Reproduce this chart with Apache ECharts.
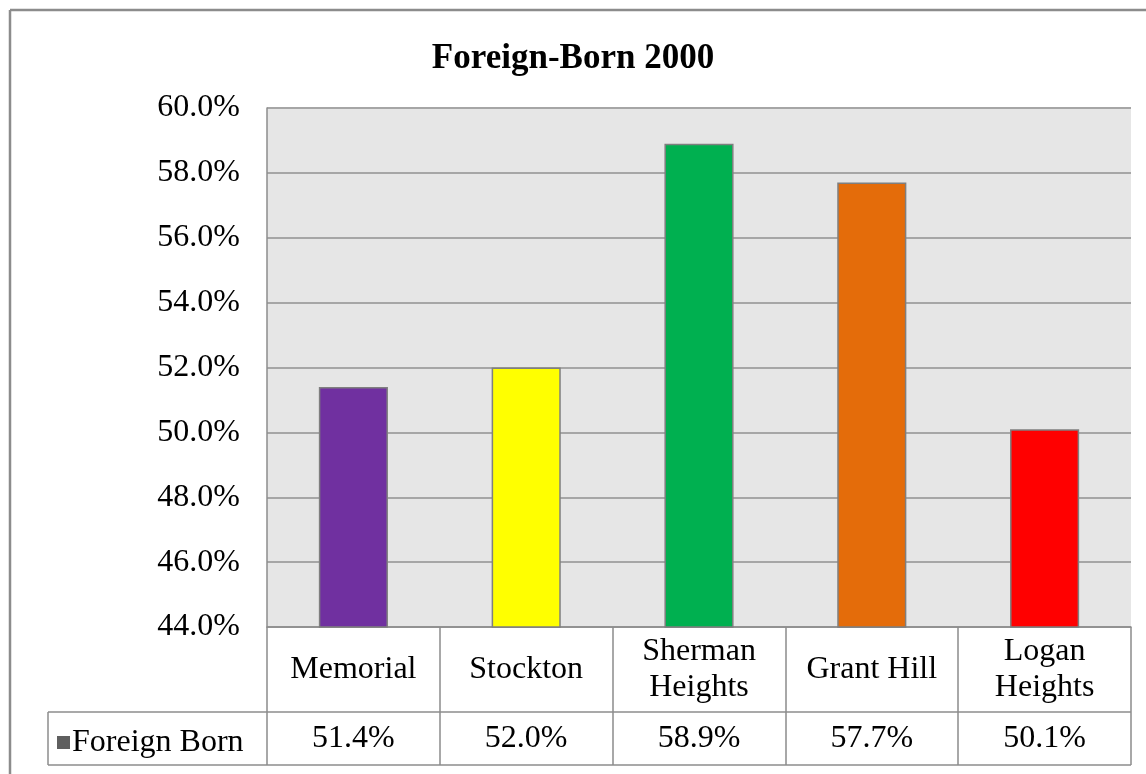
<!DOCTYPE html>
<html>
<head>
<meta charset="utf-8">
<script src="https://cdn.jsdelivr.net/npm/echarts@6/dist/echarts.min.js"></script>
<style>
html,body{margin:0;padding:0;background:#fff;}
#chart{width:1146px;height:774px;}
</style>
</head>
<body>
<div id="chart"></div>
<script>
var titleText = 'Foreign-Born 2000';
var seriesName = 'Foreign Born';
var categories = ['Memorial', 'Stockton', 'Sherman\nHeights', 'Grant Hill', 'Logan\nHeights'];
var values = [51.4, 52.0, 58.9, 57.7, 50.1];
var barColors = ['#7030A0', '#FFFF00', '#00B050', '#E46C0A', '#FF0000'];
var yMin = 44, yMax = 60, yStep = 2;

var FONT = '"Liberation Serif", "Times New Roman", serif';
var L = 267, R = 1131, T = 108, B = 627;
var rowMid = 712, rowEnd = 765, legLeft = 48;
var lineColor = '#8c8c8c';
var FS = 32;

var chart = echarts.init(document.getElementById('chart'), null, {renderer: 'canvas'});
chart.setOption({
  animation: false,
  backgroundColor: '#ffffff',
  textStyle: {fontFamily: FONT},
  title: {
    text: titleText, left: 'center', top: 36,
    textStyle: {fontFamily: FONT, fontWeight: 'bold', fontSize: 35, color: '#000'}
  },
  legend: {
    data: [seriesName], left: legLeft + 4, top: (rowMid + rowEnd) / 2 - 17,
    icon: 'rect', itemWidth: 13, itemHeight: 13, itemGap: 4,
    textStyle: {fontFamily: FONT, fontSize: FS, color: '#000', padding: [0, 0, 0, -3]},
    selectedMode: false
  },
  grid: {
    left: L, right: 1146 - R, top: T, bottom: 774 - B,
    show: true, backgroundColor: '#e6e6e6', borderWidth: 0
  },
  xAxis: [{
    type: 'category', data: categories, position: 'bottom',
    axisLine: {show: true, lineStyle: {color: lineColor, width: 1.5}},
    axisTick: {show: true, alignWithLabel: false, inside: false, length: rowEnd - B, lineStyle: {color: lineColor, width: 1.5}},
    axisLabel: {
      margin: (rowMid - B) / 2, verticalAlign: 'middle', lineHeight: 36,
      fontFamily: FONT, fontSize: FS, color: '#000', interval: 0
    }
  }, {
    type: 'category', data: values.map(function (v) { return v.toFixed(1) + '%'; }), position: 'bottom',
    axisLine: {show: false}, axisTick: {show: false},
    axisLabel: {
      margin: (rowMid + rowEnd) / 2 - B, verticalAlign: 'middle',
      fontFamily: FONT, fontSize: FS, color: '#000', interval: 0
    }
  }],
  yAxis: {
    type: 'value', min: yMin, max: yMax, interval: yStep,
    axisLine: {show: true, lineStyle: {color: lineColor, width: 1.5}},
    axisTick: {show: false},
    splitLine: {show: true, lineStyle: {color: '#a6a6a6', width: 2}},
    axisLabel: {
      margin: 27, fontFamily: FONT, fontSize: FS, color: '#000',
      formatter: function (v) { return v.toFixed(1) + '%'; }
    }
  },
  series: [{
    name: seriesName, type: 'bar', barWidth: '40%',
    itemStyle: {color: '#5f5f5f'},
    data: values.map(function (v, i) {
      return {value: v, itemStyle: {color: barColors[i], borderColor: '#7f7f7f', borderWidth: 1.5}};
    })
  }],
  graphic: [
    {type: 'line', shape: {x1: 10, y1: 10, x2: 1146, y2: 10}, style: {stroke: '#8c8c8c', lineWidth: 2.5}},
    {type: 'line', shape: {x1: 10, y1: 10, x2: 10, y2: 774}, style: {stroke: '#8c8c8c', lineWidth: 2.5}},
    {type: 'line', shape: {x1: legLeft, y1: rowMid, x2: R, y2: rowMid}, style: {stroke: lineColor, lineWidth: 1.5}},
    {type: 'line', shape: {x1: legLeft, y1: rowEnd, x2: R, y2: rowEnd}, style: {stroke: lineColor, lineWidth: 1.5}},
    {type: 'line', shape: {x1: legLeft, y1: rowMid, x2: legLeft, y2: rowEnd}, style: {stroke: lineColor, lineWidth: 1.5}}
  ]
});
</script>
</body>
</html>
